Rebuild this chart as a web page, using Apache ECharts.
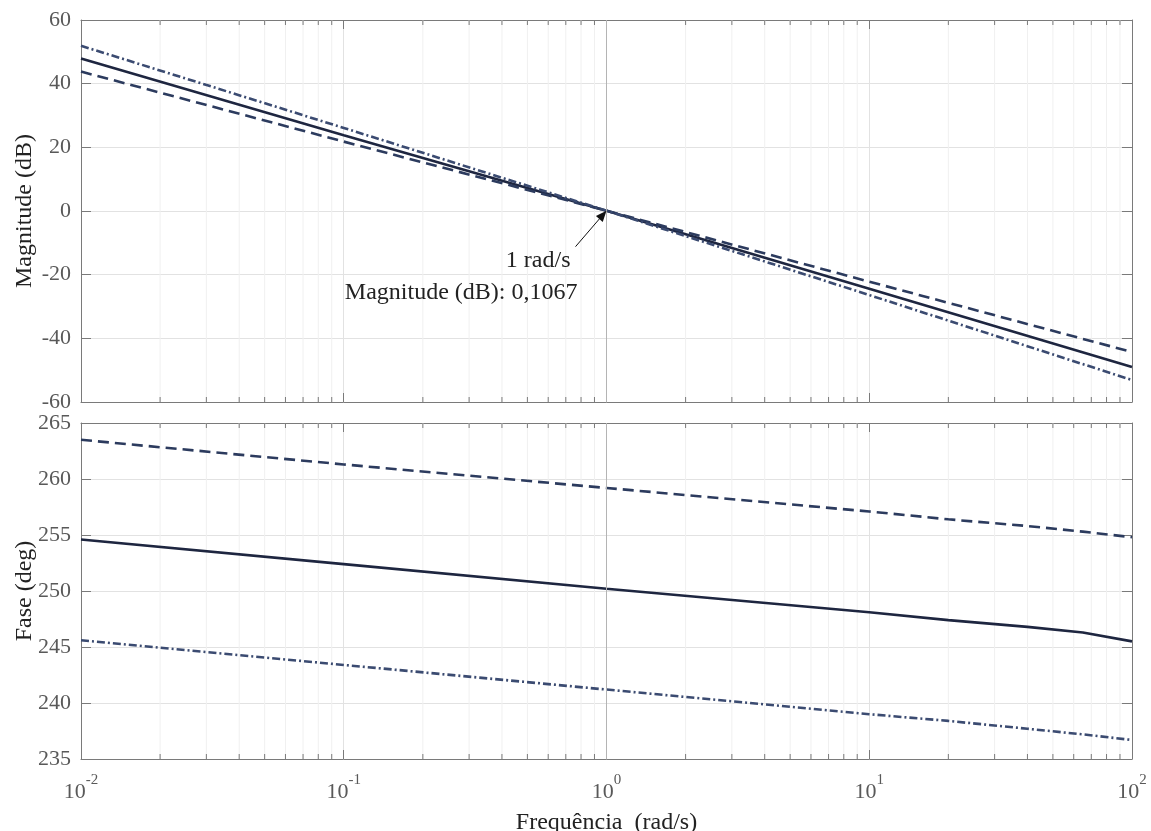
<!DOCTYPE html>
<html><head><meta charset="utf-8">
<script src="https://cdn.jsdelivr.net/npm/echarts@6/dist/echarts.min.js"></script>
<style>html,body{margin:0;padding:0;background:#fff}#c{width:1151px;height:831px}</style>
</head><body><div id="c"></div>
<script>
// ---- data ----
const magFreq = [0.01, 0.1, 1, 10, 100];
const magSolid = [47.9, 23.8, 0.1067, -24.4, -49.0];
const magDashed = [43.8, 21.8, 0.1067, -22.2, -44.3];
const magDashDot = [51.9, 26.1, 0.1067, -26.4, -53.1];

const phaseFreq = [0.01, 0.1, 1, 10, 20, 40, 65, 100];
const phaseSolid = [254.6, 252.4, 250.2, 248.1, 247.4, 246.8, 246.3, 245.5];
const phaseDashed = [263.5, 261.3, 259.2, 257.1, 256.4, 255.8, 255.3, 254.8];
const phaseDashDot = [245.6, 243.4, 241.2, 239.0, 238.4, 237.7, 237.2, 236.7];

const freqTicks = [0.01, 0.1, 1, 10, 100];
const magTicks = [-60, -40, -20, 0, 20, 40, 60];
const phaseTicks = [235, 240, 245, 250, 255, 260, 265];
const minorFreq = [];
[0.01, 0.1, 1, 10].forEach(d => { for (let k = 2; k <= 9; k++) minorFreq.push(+(d * k).toPrecision(3)); });

const markerFreq = 1;
const markerMag = 0.1067;
const annoLine1 = '1 rad/s';
const annoLine2 = 'Magnitude (dB): 0,1067';

// ---- styles ----
const FONT = '"Liberation Serif", "Times New Roman", serif';
const cSolid = '#1e2640', cDashed = '#2c3b5e', cDashDot = '#3b4b71';
const axisCol = '#7a7a7a';

function pairs(xs, ys) { return xs.map((x, i) => [x, ys[i]]); }

function xAxisDef(grid, pos, showLabel) {
  return {
    type: 'log', logBase: 10, gridIndex: grid, position: pos, min: freqTicks[0], max: freqTicks[freqTicks.length - 1],
    splitNumber: 4,
    axisLine: { show: true, onZero: false, lineStyle: { color: axisCol, width: 1 } },
    axisTick: { show: true, inside: true, length: 9, lineStyle: { color: axisCol } },
    splitLine: { show: pos === 'bottom', lineStyle: { color: '#e2e2e2', width: 1 } },
    axisLabel: showLabel ? {
      show: true, margin: 14,
      formatter: v => '{b|10}{s|' + Math.round(Math.log10(v)) + '}',
      rich: {
        b: { fontFamily: FONT, fontSize: 22, color: '#595959', lineHeight: 30, verticalAlign: 'bottom' },
        s: { fontFamily: FONT, fontSize: 15, color: '#595959', lineHeight: 15, verticalAlign: 'top' }
      }
    } : { show: false },
    name: showLabel ? 'Frequência  (rad/s)' : '',
    nameLocation: 'middle', nameGap: 52,
    nameTextStyle: { fontFamily: FONT, fontSize: 24, color: '#222' }
  };
}
function yAxisDef(grid, pos, ticks, name) {
  const left = pos === 'left';
  return {
    type: 'value', gridIndex: grid, position: pos, min: ticks[0], max: ticks[ticks.length - 1],
    interval: ticks[1] - ticks[0],
    axisLine: { show: true, onZero: false, lineStyle: { color: axisCol, width: 1 } },
    axisTick: { show: true, inside: true, length: 10, lineStyle: { color: axisCol } },
    splitLine: { show: left, lineStyle: { color: '#e2e2e2', width: 1 } },
    axisLabel: left ? { show: true, margin: 10, fontFamily: FONT, fontSize: 22, color: '#595959' } : { show: false },
    name: left ? name : '', nameLocation: 'middle', nameGap: 44, nameRotate: 90, nameMoveOverlap: false,
    nameTextStyle: { fontFamily: FONT, fontSize: 24, color: '#222' }
  };
}
function minorRender(params, api) {
  const cs = params.coordSys;
  const x = api.coord([api.value(0), api.value(1)])[0];
  return {
    type: 'group', children: [
      { type: 'line', shape: { x1: x, y1: cs.y, x2: x, y2: cs.y + cs.height }, style: { stroke: '#f0f0f0', lineWidth: 1 } },
      { type: 'line', shape: { x1: x, y1: cs.y + cs.height, x2: x, y2: cs.y + cs.height - 5 }, style: { stroke: axisCol, lineWidth: 1 } },
      { type: 'line', shape: { x1: x, y1: cs.y, x2: x, y2: cs.y + 5 }, style: { stroke: axisCol, lineWidth: 1 } }
    ]
  };
}
function vMark() {
  return { silent: true, symbol: 'none', label: { show: false }, lineStyle: { color: '#b4b4b4', width: 1, type: 'solid' },
    data: [{ xAxis: markerFreq }] };
}
function lineSeries(xi, yi, xs, ys, color, type, withMark) {
  const s = {
    type: 'line', xAxisIndex: xi, yAxisIndex: yi, data: pairs(xs, ys), showSymbol: false, symbol: 'none',
    smooth: false, z: 3, animation: false,
    lineStyle: { color: color, width: 2.6, type: type }
  };
  if (withMark) s.markLine = vMark();
  return s;
}

const chart = echarts.init(document.getElementById('c'), null, { renderer: 'canvas' });
chart.setOption({
  animation: false,
  backgroundColor: '#fff',
  grid: [
    { left: 81, right: 19, top: 20, height: 382, containLabel: false, outerBoundsMode: 'none' },
    { left: 81, right: 19, top: 423, height: 336, containLabel: false, outerBoundsMode: 'none' }
  ],
  xAxis: [xAxisDef(0, 'bottom', false), xAxisDef(0, 'top', false), xAxisDef(1, 'bottom', true), xAxisDef(1, 'top', false)],
  yAxis: [yAxisDef(0, 'left', magTicks, 'Magnitude (dB)'), yAxisDef(0, 'right', magTicks, ''),
          yAxisDef(1, 'left', phaseTicks, 'Fase (deg)'), yAxisDef(1, 'right', phaseTicks, '')],
  series: [
    { type: 'custom', xAxisIndex: 0, yAxisIndex: 0, z: 1, silent: true, renderItem: minorRender, data: minorFreq.map(f => [f, 0]) },
    { type: 'custom', xAxisIndex: 2, yAxisIndex: 2, z: 1, silent: true, renderItem: minorRender, data: minorFreq.map(f => [f, 250]) },
    lineSeries(0, 0, magFreq, magSolid, cSolid, 'solid', true),
    lineSeries(0, 0, magFreq, magDashed, cDashed, [11, 6], false),
    lineSeries(0, 0, magFreq, magDashDot, cDashDot, [8, 3, 2, 3], false),
    lineSeries(2, 2, phaseFreq, phaseSolid, cSolid, 'solid', true),
    lineSeries(2, 2, phaseFreq, phaseDashed, cDashed, [11, 6], false),
    lineSeries(2, 2, phaseFreq, phaseDashDot, cDashDot, [8, 3, 2, 3], false)
  ]
});

// annotation (data tip) anchored on the marked data point
const p = chart.convertToPixel({ xAxisIndex: 0, yAxisIndex: 0 }, [markerFreq, markerMag]);
const sx = p[0] - 31, sy = p[1] + 36;
const ang = Math.atan2(p[1] - sy, p[0] - sx);
const ah = 11, aw = 4.5;
const bx = p[0] - ah * Math.cos(ang), by = p[1] - ah * Math.sin(ang);
chart.setOption({
  graphic: [
    { type: 'line', shape: { x1: sx, y1: sy, x2: bx, y2: by }, style: { stroke: '#111', lineWidth: 1 }, z: 10 },
    { type: 'polygon', shape: { points: [[p[0], p[1]],
        [bx + aw * Math.sin(ang), by - aw * Math.cos(ang)], [bx - aw * Math.sin(ang), by + aw * Math.cos(ang)]] },
      style: { fill: '#111' }, z: 10 },
    { type: 'text', x: sx - 5, y: sy + 14, z: 10,
      style: { text: annoLine1, font: '24px ' + FONT, fill: '#222', align: 'right', verticalAlign: 'middle' } },
    { type: 'text', x: sx + 2, y: sy + 46, z: 10,
      style: { text: annoLine2, font: '24px ' + FONT, fill: '#222', align: 'right', verticalAlign: 'middle' } }
  ]
});
</script>
</body></html>
